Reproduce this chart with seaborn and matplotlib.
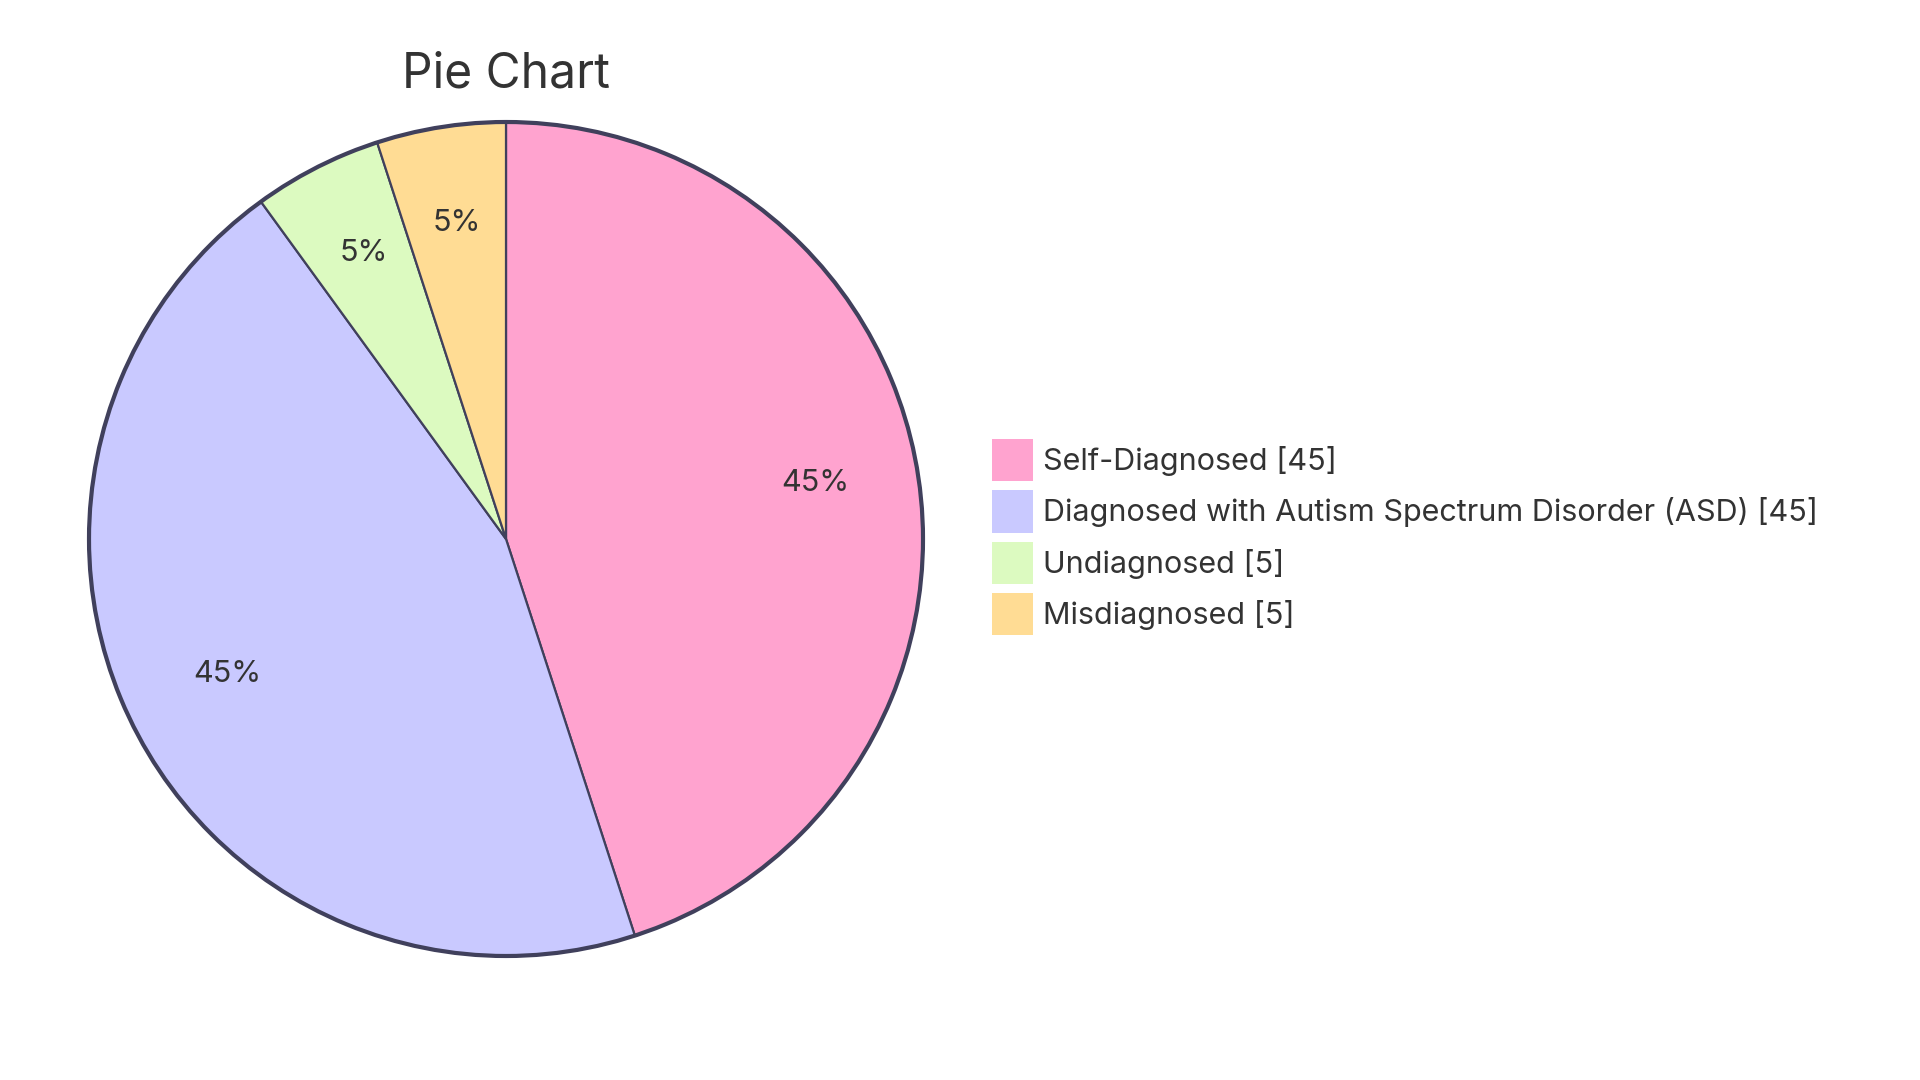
import matplotlib
matplotlib.use("Agg")
import matplotlib.pyplot as plt
import matplotlib.transforms as mtransforms
import seaborn as sns
from matplotlib.patches import Patch

categories = ["Self-Diagnosed", "Diagnosed with Autism Spectrum Disorder (ASD)", "Undiagnosed", "Misdiagnosed"]
values = [45, 45, 5, 5]
colors = ["#FFA3CF", "#C9C9FF", "#DCFAC0", "#FFDC94"]
title = "Pie Chart"

sns.set_theme(style="white")
plt.rcParams['font.family'] = ['Inter', 'DejaVu Sans']

W, H = 1920, 1080
fig = plt.figure(figsize=(W / 100, H / 100), dpi=100)
cx, cy, r = 506, 539, 417
ax = fig.add_axes([(cx - r) / W, (H - cy - r) / H, 2 * r / W, 2 * r / H])
edge = "#40405C"
pal = sns.color_palette(colors)

total = sum(values)
wedges, texts, autotexts = ax.pie(
    values, colors=pal, startangle=90, counterclock=False,
    autopct=lambda p: f"{p:.0f}%", pctdistance=0.75,
    wedgeprops=dict(edgecolor=edge, linewidth=1.6),
    textprops=dict(color="#333333", fontsize=22),
)
for t in autotexts:
    t.set_transform(mtransforms.offset_copy(t.get_transform(), fig=fig, x=0, y=7, units="dots"))
outline, _ = ax.pie([total], colors=["none"], startangle=90, counterclock=False,
                    wedgeprops=dict(edgecolor=edge, linewidth=3, fill=False))
for w in list(wedges) + list(outline):
    w.set_clip_on(False)
ax.set_xlim(-1, 1)
ax.set_ylim(-1, 1)
ax.set_aspect("equal")
ax.axis("off")

fig.text(cx / W, 1 - 75 / H, title, ha="center", va="center", fontsize=34.5, color="#333333")

fs = 22
handles = [Patch(facecolor=c, edgecolor="none") for c in pal]
labels = [f"{c} [{v}]" for c, v in zip(categories, values)]
leg = fig.legend(handles, labels, loc="upper left", bbox_to_anchor=(992 / W, 1 - 439 / H),
                 frameon=False, fontsize=fs, borderpad=0, borderaxespad=0,
                 handlelength=1.33, handleheight=1.75, handletextpad=0.33, labelspacing=0.3)
for t in leg.get_texts():
    t.set_color("#333333")

fig.savefig("out.png", dpi=100, facecolor="white")
